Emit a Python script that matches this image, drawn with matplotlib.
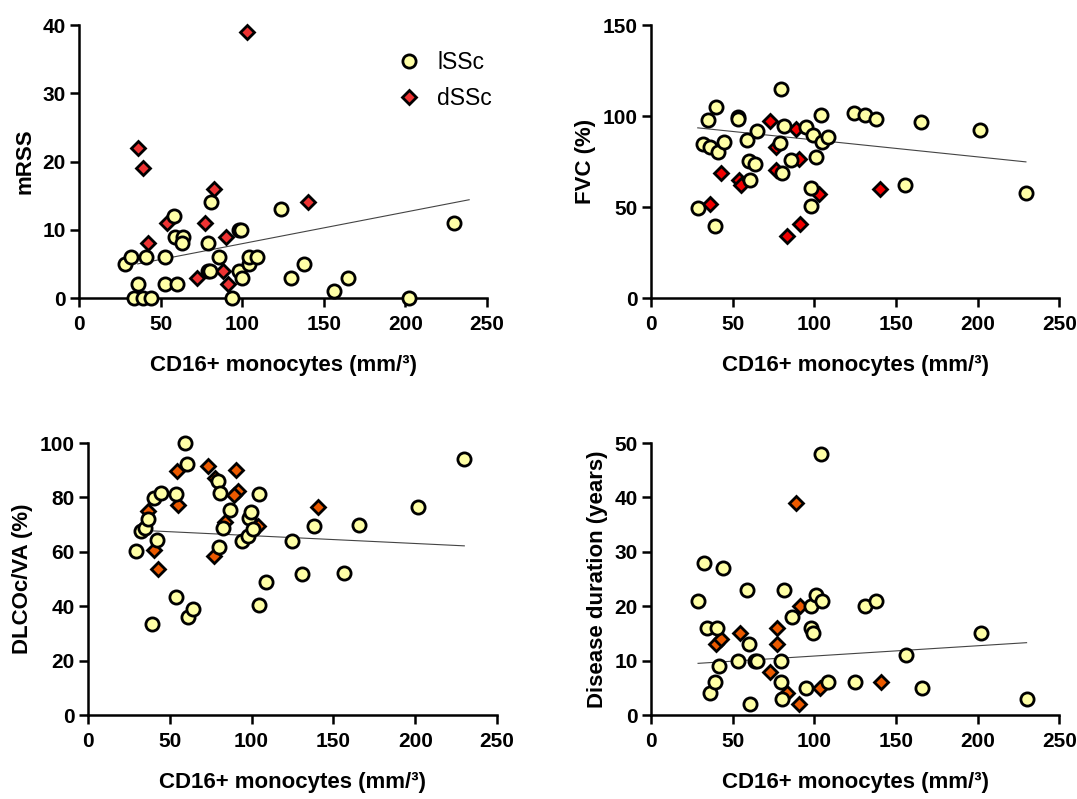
import numpy as np
import matplotlib
matplotlib.use('Agg')
import matplotlib.pyplot as plt
from matplotlib.lines import Line2D

plt.rcParams['font.family'] = ['Liberation Sans', 'DejaVu Sans']

# x values: CD16+ monocytes (mm^3), y values per clinical parameter
# Panel A - mRSS
mrss_l_x = [28, 32, 36, 34, 39, 44, 41, 53, 53, 60, 58, 59, 64, 63, 79, 81, 86, 79, 80, 94,
            98, 99, 98, 100, 104, 104, 109, 124, 130, 138, 156, 165, 202, 230]
mrss_l_y = [5, 6, 2, 0, 0, 0, 6, 6, 2, 2, 12, 9, 9, 8, 8, 14, 6, 4, 4, 0,
            10, 10, 4, 3, 5, 6, 6, 13, 3, 5, 1, 3, 0, 11]
mrss_d_x = [103, 36, 39, 42, 54, 83, 77, 90, 72, 88, 91, 140]
mrss_d_y = [39, 22, 19, 8, 11, 16, 11, 9, 3, 4, 2, 14]
mrss_fit_x = [36, 239]
mrss_fit_y = [5.0, 14.4]

# Panel B - FVC (%)
fvc_l_x = [28.6, 32, 35, 36, 39, 40, 41, 44.5, 53, 53, 58.6, 60, 63.7, 60.8, 64.7, 79.4, 81.6,
           79.2, 80, 86, 95, 99, 101, 104, 104.5, 108.6, 98, 97.8, 124.5, 131, 137.8, 155.7,
           165.3, 201.4, 229.6]
fvc_l_y = [49.5, 84.5, 97.7, 83, 39.6, 104.7, 80.3, 85.8, 99.5, 98.6, 87, 75.3, 73.5, 64.7,
           91.8, 115, 94.6, 85.4, 68.7, 76, 94, 89.6, 77.3, 100.3, 85.6, 88.2, 60.7, 50.4,
           101.7, 100.8, 98.4, 62.3, 96.8, 92.2, 57.7]
fvc_d_x = [36.3, 42.7, 54, 55, 72.9, 76.5, 76.5, 83, 88.8, 90.8, 91.2, 103, 140]
fvc_d_y = [51.9, 68.7, 64.7, 62, 97.3, 83, 70.6, 34.3, 93, 76.6, 40.9, 57.4, 59.8]
fvc_fit_x = [28.6, 229.6]
fvc_fit_y = [93.5, 74.8]

# Panel C - DLCOc/VA (%)
dlco_l_x = [29.1, 32.6, 35, 36.7, 40.5, 42, 44.8, 39.3, 53.6, 53.6, 59, 60.5, 61, 64.4, 79.5,
            80.5, 80, 82.5, 87, 94.3, 98, 98.4, 99.6, 100.9, 104.5, 104.5, 108.8, 124.5, 131,
            138.1, 156.3, 165.6, 202, 230]
dlco_l_y = [60.2, 67.6, 68.8, 72, 79.9, 64.4, 81.8, 33.3, 81.4, 43.5, 99.9, 92.2, 36, 38.9,
            85.9, 81.6, 61.8, 68.9, 75.2, 64, 66, 72.6, 74.8, 68.4, 81.4, 40.6, 49, 63.9, 51.9,
            69.6, 52.4, 69.9, 76.6, 94]
dlco_d_x = [36.5, 40.1, 43, 54.4, 55.2, 73.1, 77.4, 77.2, 83.7, 90.7, 91.7, 89.4, 104, 140.8]
dlco_d_y = [74.9, 60.5, 53.7, 89.8, 77.1, 91.4, 87.3, 58.5, 71, 90.1, 82.3, 80.8, 69.5, 76.4]
dlco_fit_x = [32.6, 230]
dlco_fit_y = [67.9, 62.2]

# Panel D - disease duration (years)
dur_l_x = [28.8, 32.7, 44.3, 34.5, 40.2, 36.1, 39, 41.4, 53, 58.6, 60, 60.8, 63.5, 65, 79.6,
           79.4, 80, 81.6, 86.3, 94.7, 98, 99, 98, 101, 104.5, 104, 108.6, 124.7, 131, 138,
           156, 165.7, 201.8, 230]
dur_l_y = [21, 28, 27, 16, 16, 4, 6, 9, 10, 23, 13, 2, 10, 10, 10, 6, 3, 23, 18, 5, 16, 15,
           20, 22, 21, 48, 6, 6, 20, 21, 11, 5, 15, 3]
dur_d_x = [39.8, 42.9, 54.3, 72.9, 76.9, 77.1, 83, 88.8, 90.6, 91.2, 103.5, 140.6]
dur_d_y = [13, 14, 15, 8, 16, 13, 4, 39, 2, 20, 5, 6]
dur_fit_x = [28.8, 230]
dur_fit_y = [9.5, 13.3]

yellow = '#FFFFA6'
xlabel = 'CD16+ monocytes (mm/\u00b3)'
circ_ms, dia_ms, edge = 9.5, 7.5, 2.0

fig = plt.figure(figsize=(10.77, 7.99), dpi=100)


def panel(rect, lx, ly, dx, dy, fx, fy, dcolor, ylabel, ymax, ystep):
    ax = fig.add_axes(rect)
    # fit line under the points
    ax.plot(fx, fy, color='#444444', lw=0.8, zorder=2)
    # dSSc first so the lSSc circles sit on top
    ax.plot(dx, dy, 'D', ms=dia_ms, mfc=dcolor, mec='black', mew=edge,
            ls='none', zorder=3, clip_on=False)
    ax.plot(lx, ly, 'o', ms=circ_ms, mfc=yellow, mec='black', mew=edge,
            ls='none', zorder=4, clip_on=False)
    ax.set_xlim(0, 250)
    ax.set_ylim(0, ymax)
    ax.set_xticks(np.arange(0, 251, 50))
    ax.set_yticks(np.arange(0, ymax + 1, ystep))
    for s in ['top', 'right']:
        ax.spines[s].set_visible(False)
    for s in ['left', 'bottom']:
        ax.spines[s].set_linewidth(1.8)
    ax.tick_params(axis='both', length=6.5, width=1.8, labelsize=15)
    ax.tick_params(axis='x', pad=6)
    ax.tick_params(axis='y', pad=3)
    for lab in ax.get_xticklabels() + ax.get_yticklabels():
        lab.set_fontweight('bold')
    ax.set_xlabel(xlabel, fontsize=16, fontweight='bold', labelpad=15)
    ax.set_ylabel(ylabel, fontsize=16, fontweight='bold', labelpad=5)
    return ax


ax1 = panel([0.0733, 0.627, 0.379, 0.3417], mrss_l_x, mrss_l_y, mrss_d_x, mrss_d_y,
            mrss_fit_x, mrss_fit_y, '#EE3333', 'mRSS', 40, 10)
ax2 = panel([0.6045, 0.627, 0.379, 0.3417], fvc_l_x, fvc_l_y, fvc_d_x, fvc_d_y,
            fvc_fit_x, fvc_fit_y, '#F00000', 'FVC (%)', 150, 50)
ax3 = panel([0.0817, 0.1051, 0.3798, 0.3404], dlco_l_x, dlco_l_y, dlco_d_x, dlco_d_y,
            dlco_fit_x, dlco_fit_y, '#EB5A00', 'DLCOc/VA (%)', 100, 20)
ax4 = panel([0.6045, 0.1051, 0.379, 0.3404], dur_l_x, dur_l_y, dur_d_x, dur_d_y,
            dur_fit_x, dur_fit_y, '#EB5A00', 'Disease duration (years)', 50, 10)

# legend in the first panel
handles = [Line2D([], [], marker='o', ms=circ_ms, mfc=yellow, mec='black', mew=edge, ls='none'),
           Line2D([], [], marker='D', ms=dia_ms, mfc='#EE3333', mec='black', mew=edge, ls='none')]
ax1.legend(handles, ['lSSc', 'dSSc'], loc='upper left', bbox_to_anchor=(0.785, 0.905),
           frameon=False, fontsize=16.5, handlelength=0.8, handletextpad=0.85,
           labelspacing=0.55, borderpad=0, borderaxespad=0)

fig.savefig('out.png', dpi=100)
